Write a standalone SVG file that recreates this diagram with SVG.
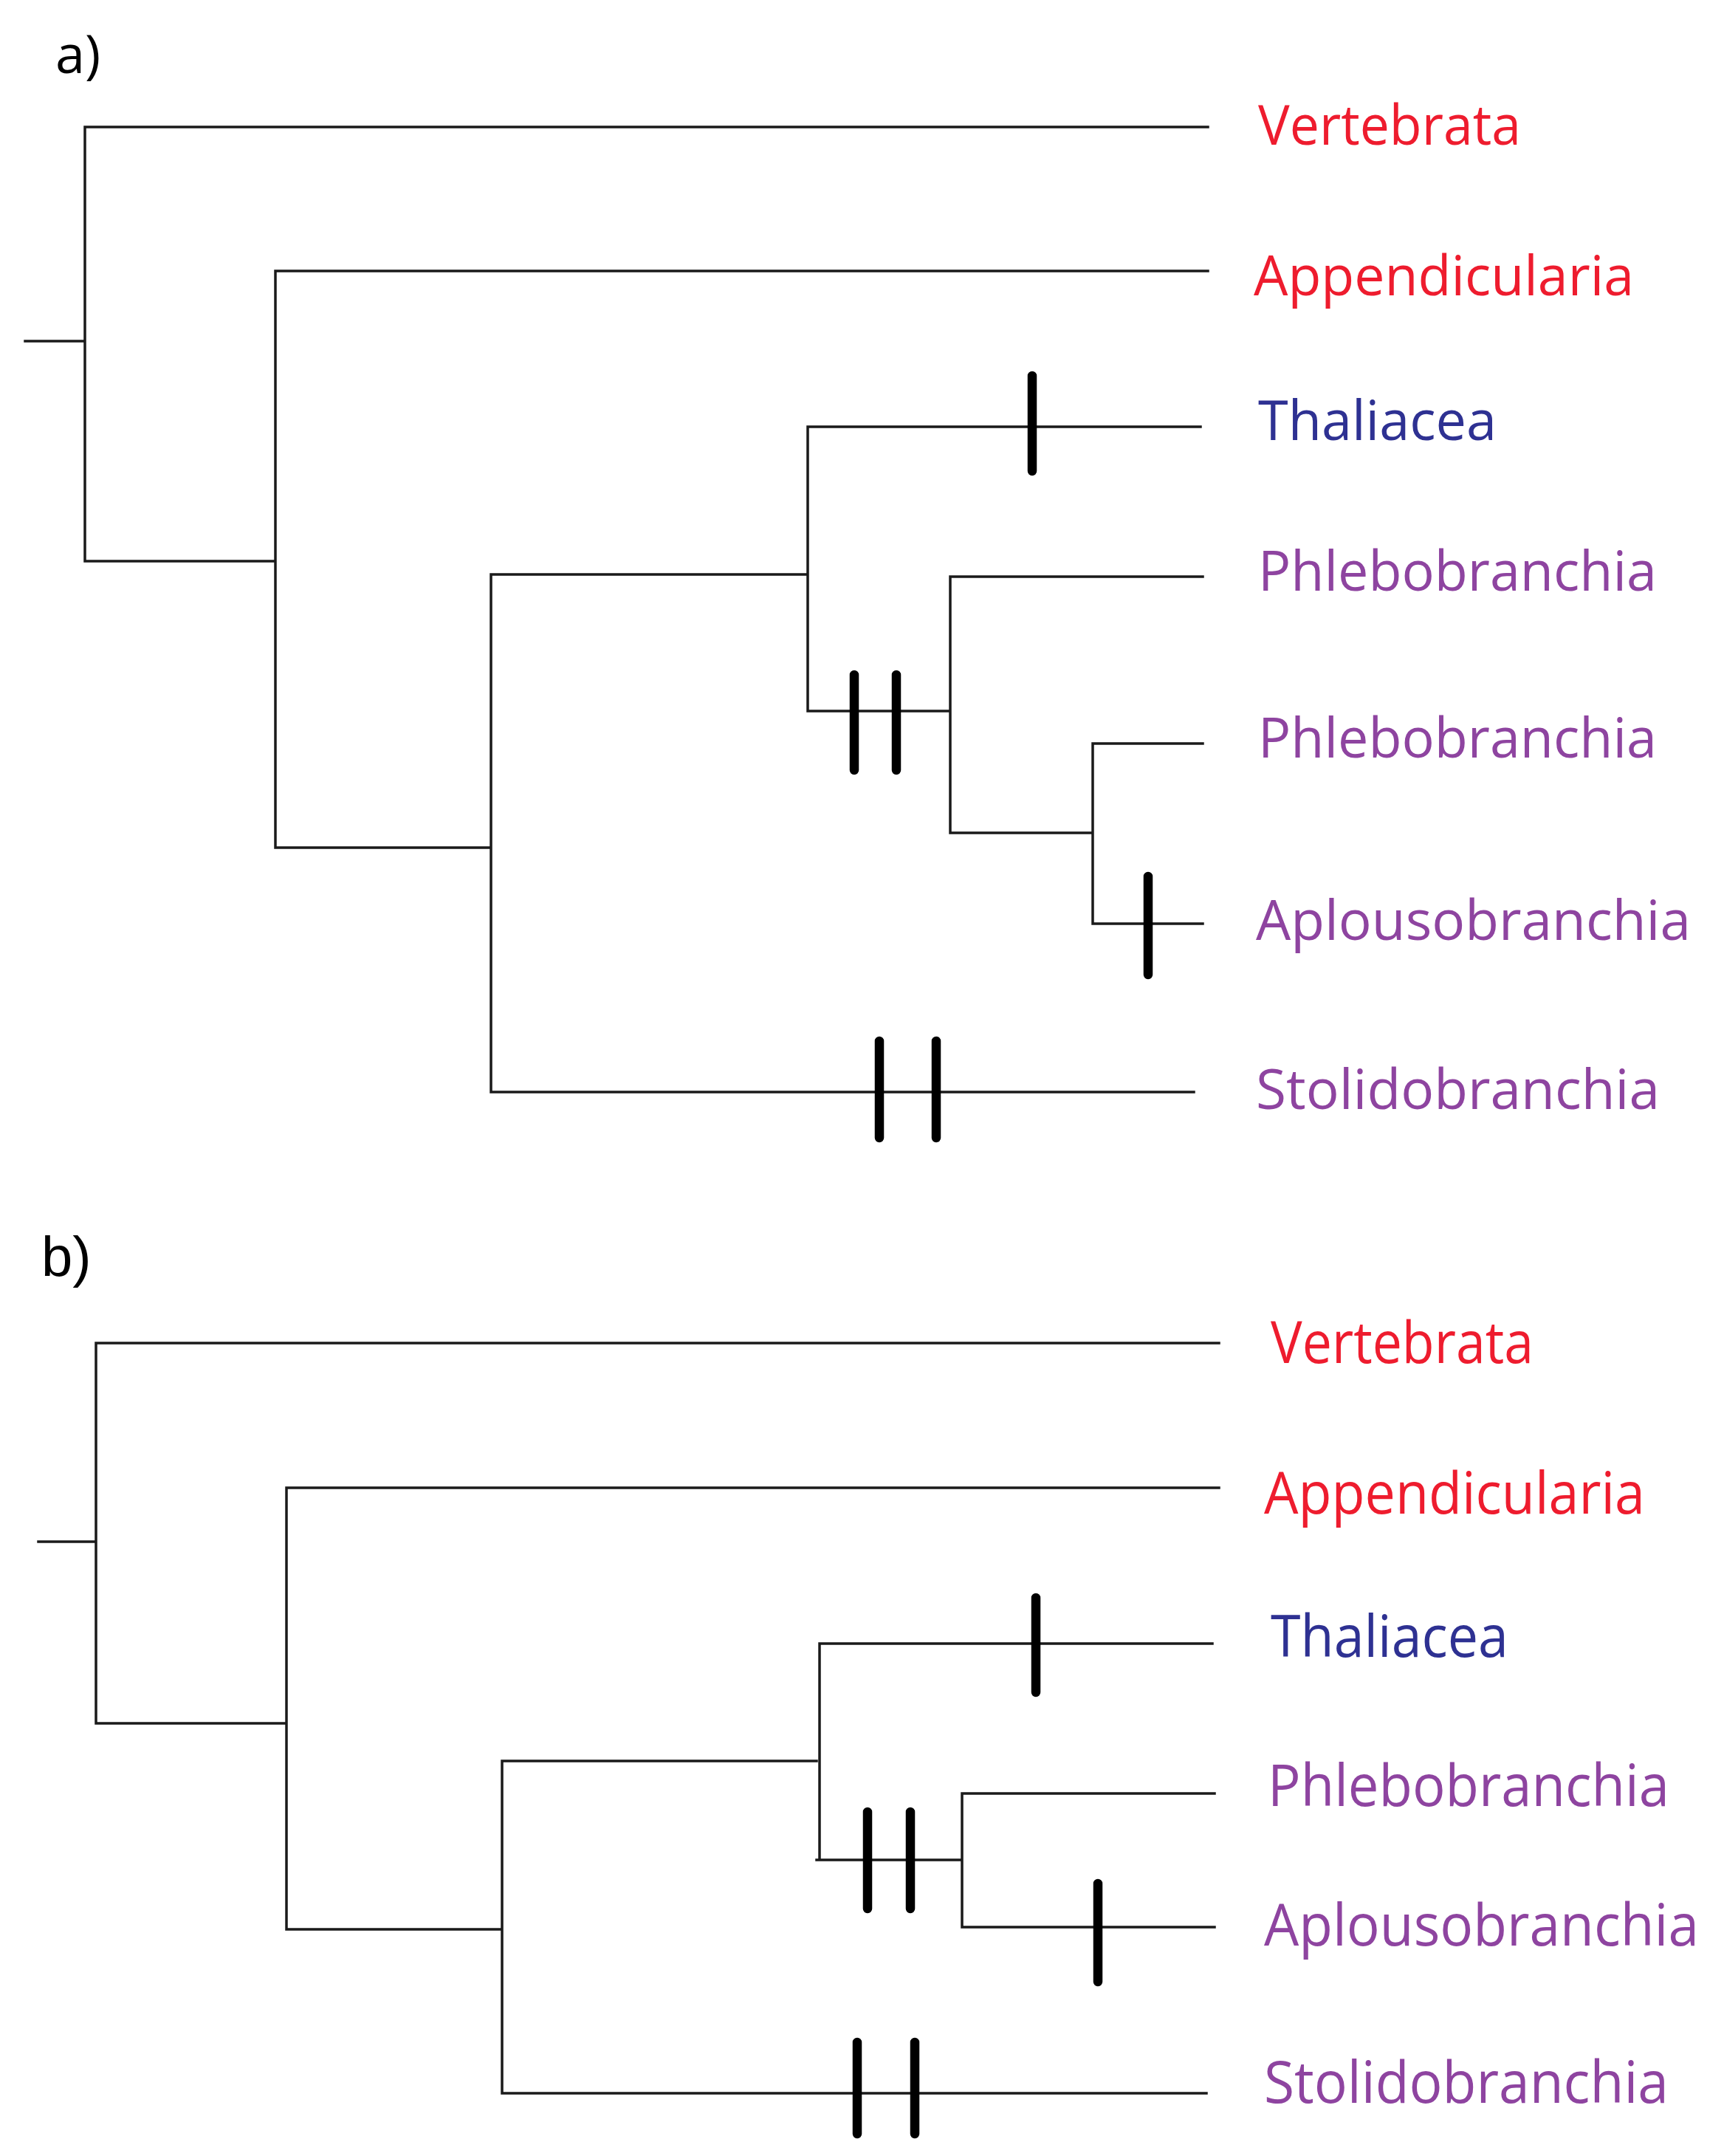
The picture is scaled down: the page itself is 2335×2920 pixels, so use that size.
<svg xmlns="http://www.w3.org/2000/svg" width="2335" height="2920" viewBox="0 0 2335 2920">
<style>
.br{fill:none;stroke:#1a1a1a;stroke-width:3.5;stroke-linecap:square}
.tk{fill:none;stroke:#000;stroke-width:12.5;stroke-linecap:round}
.lbA{font-family:"Open Sans","Noto Sans",sans-serif;font-size:75px}
.lbB{font-family:"Open Sans","Noto Sans",sans-serif;font-size:78px}
.red{fill:#ee1c2e}
.blue{fill:#2e3192}
.pur{fill:#8e44a0}
.pan{font-family:"Open Sans","Noto Sans",sans-serif;font-size:72px;fill:#000}
.panb{font-family:"Liberation Sans",Arial,sans-serif;font-size:76px;fill:#000}
</style>
<rect width="2335" height="2920" fill="#fff"/>
<g id="panel-labels">
<text class="pan" x="75" y="99">a)</text>
<text class="panb" x="56" y="1728">b)</text>
</g>
<g id="connectors">
<g id="tree-a">
<path class="br" d="M34,462 H115 M115,172 V760 M115,172 H1636 M115,760 H373 M373,367 V1148 M373,367 H1636 M373,1148 H665 M665,778 V1479 M665,778 H1094 M1094,578 V963 M1094,578 H1626 M1094,963 H1287 M1287,781 V1128 M1287,781 H1629 M1287,1128 H1480 M1480,1007 V1251 M1480,1007 H1629 M1480,1251 H1629 M665,1479 H1617"/>
<path class="tk" d="M1398,509 V638 M1157,914 V1043 M1214,914 V1043 M1555,1187 V1320 M1191,1410 V1541 M1268,1410 V1541"/>
</g>
<g id="tree-b">
<path class="br" d="M52,2088 H130 M130,1819 V2334 M130,1819 H1651 M130,2334 H388 M388,2015 V2613 M388,2015 H1651 M388,2613 H680 M680,2385 V2835 M680,2385 H1106 M1110,2226 V2519 M1110,2226 H1642 M1106,2519 H1303 M1303,2429 V2610 M1303,2429 H1645 M1303,2610 H1645 M680,2835 H1634"/>
<path class="tk" d="M1403,2164 V2292 M1175,2454 V2585 M1233,2454 V2585 M1487,2551 V2684 M1161,2766 V2890 M1239,2766 V2890"/>
</g>
</g>
<g id="a-vertebrata"><text class="lbA red" x="1704" y="196" textLength="356" lengthAdjust="spacingAndGlyphs">Vertebrata</text></g>
<g id="a-appendicularia"><text class="lbA red" x="1698" y="400" textLength="515" lengthAdjust="spacingAndGlyphs">Appendicularia</text></g>
<g id="a-thaliacea"><text class="lbA blue" x="1704" y="596" textLength="323" lengthAdjust="spacingAndGlyphs">Thaliacea</text></g>
<g id="a-phlebobranchia-1"><text class="lbA pur" x="1704" y="800" textLength="540" lengthAdjust="spacingAndGlyphs">Phlebobranchia</text></g>
<g id="a-phlebobranchia-2"><text class="lbA pur" x="1704" y="1026" textLength="540" lengthAdjust="spacingAndGlyphs">Phlebobranchia</text></g>
<g id="a-aplousobranchia"><text class="lbA pur" x="1701" y="1273" textLength="589" lengthAdjust="spacingAndGlyphs">Aplousobranchia</text></g>
<g id="a-stolidobranchia"><text class="lbA pur" x="1701" y="1502" textLength="547" lengthAdjust="spacingAndGlyphs">Stolidobranchia</text></g>
<g id="b-vertebrata"><text class="lbB red" x="1721" y="1846" textLength="356" lengthAdjust="spacingAndGlyphs">Vertebrata</text></g>
<g id="b-appendicularia"><text class="lbB red" x="1712" y="2050" textLength="516" lengthAdjust="spacingAndGlyphs">Appendicularia</text></g>
<g id="b-thaliacea"><text class="lbB blue" x="1721" y="2244" textLength="322" lengthAdjust="spacingAndGlyphs">Thaliacea</text></g>
<g id="b-phlebobranchia"><text class="lbB pur" x="1717" y="2446" textLength="544" lengthAdjust="spacingAndGlyphs">Phlebobranchia</text></g>
<g id="b-aplousobranchia"><text class="lbB pur" x="1712" y="2635" textLength="589" lengthAdjust="spacingAndGlyphs">Aplousobranchia</text></g>
<g id="b-stolidobranchia"><text class="lbB pur" x="1712" y="2848" textLength="548" lengthAdjust="spacingAndGlyphs">Stolidobranchia</text></g>
</svg>
